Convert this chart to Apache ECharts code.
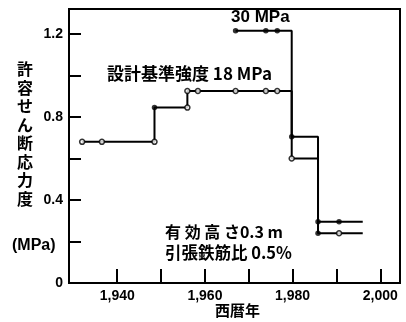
<!DOCTYPE html>
<html><head><meta charset="utf-8">
<script src="https://cdn.jsdelivr.net/npm/echarts@6/dist/echarts.min.js"></script>
<style>html,body{margin:0;padding:0;background:#fff}#c{width:406px;height:322px}</style>
</head><body><div id="c"></div>
<script>
// Step paths (year, allowable shear stress MPa)
const path18 = [[1932,0.68],[1948.5,0.68],[1948.5,0.845],[1956,0.845],[1956,0.925],[1979.8,0.925],[1979.8,0.60],[1985.8,0.60],[1985.8,0.24],[1996,0.24]];
const path30 = [[1967,1.215],[1979.8,1.215],[1979.8,0.705],[1985.8,0.705],[1985.8,0.295],[1996,0.295]];
// Markers
const openMarks = [[1932,0.68],[1936.5,0.68],[1948.5,0.68],[1956,0.845],[1956,0.925],[1958.4,0.925],[1967,0.925],[1973.9,0.925],[1976.5,0.925],[1979.8,0.60],[1990.6,0.24]];
const filledMarks = [[1948.5,0.845],[1967,1.215],[1973.9,1.215],[1976.5,1.215],[1979.8,0.705],[1985.8,0.295],[1985.8,0.24],[1990.6,0.295]];
const xTicks = [1940,1950,1960,1970,1980,1990,2000];
const xLabels = [1940,1960,1980,2000];
const yTicks = [0.2,0.4,0.6,0.8,1.0,1.2];
const yLabels = [0,0.4,0.8,1.2];

const FF = '"Liberation Sans", Arial, sans-serif';
const JF = '"Noto Sans CJK JP", sans-serif';
const chart = echarts.init(document.getElementById('c'));
chart.setOption({
  animation: false,
  backgroundColor: '#fff',
  grid: {left: 69, right: 6, top: 9, bottom: 39, show: true, borderColor: '#000', borderWidth: 2, backgroundColor: 'transparent'},
  xAxis: {type: 'value', min: 1929, max: 2004.5,
    axisLine: {lineStyle: {color: '#000', width: 2}},
    axisTick: {inside: true, length: 14, customValues: xTicks, lineStyle: {color: '#000', width: 2}},
    axisLabel: {customValues: xLabels, color: '#000', fontSize: 14, fontWeight: 'bold', fontFamily: FF, margin: 6},
    splitLine: {show: false}},
  yAxis: {type: 'value', min: 0, max: 1.32,
    axisLine: {show: true, lineStyle: {color: '#000', width: 2}},
    axisTick: {show: true, inside: true, length: 12, customValues: yTicks, lineStyle: {color: '#000', width: 2}},
    axisLabel: {customValues: yLabels, color: '#000', fontSize: 14, fontWeight: 'bold', fontFamily: FF, margin: 6,
      formatter: v => v === 0 ? '0' : v.toFixed(1)},
    splitLine: {show: false}},
  series: [
    {type: 'line', data: path18, symbol: 'none', lineStyle: {color: '#000', width: 2}},
    {type: 'line', data: path30, symbol: 'none', lineStyle: {color: '#000', width: 2}},
    {type: 'scatter', data: openMarks, symbol: 'circle', symbolSize: 5, itemStyle: {color: '#fff', borderColor: '#000', borderWidth: 1.5}, z: 3},
    {type: 'scatter', data: filledMarks, symbol: 'circle', symbolSize: 5.5, itemStyle: {color: '#000'}, z: 3}
  ],
  graphic: [
    {type: 'text', left: 231, top: 9, style: {text: '30 MPa', font: 'bold 17px ' + FF, fill: '#000'}},
    {type: 'text', left: 107, top: 65, style: {text: '設計基準強度 18 MPa', font: 'bold 17px ' + JF, fill: '#000'}},
    {type: 'text', left: 165, top: 224, style: {text: '有 効 高 さ0.3 m', font: 'bold 16px ' + JF, fill: '#000'}},
    {type: 'text', left: 165, top: 244, style: {text: '引張鉄筋比 0.5%', font: 'bold 16.5px ' + JF, fill: '#000'}},
    {type: 'text', left: 17, top: 60, style: {text: '許\n容\nせ\nん\n断\n応\n力\n度', font: 'bold 16px ' + JF, lineHeight: 18.5, fill: '#000'}},
    {type: 'text', left: 12, top: 238, style: {text: '(MPa)', font: 'bold 16px ' + FF, fill: '#000'}},
    {type: 'text', left: 215, top: 303, style: {text: '西暦年', font: 'bold 15px ' + JF, fill: '#000'}}
  ]
});
</script></body></html>
